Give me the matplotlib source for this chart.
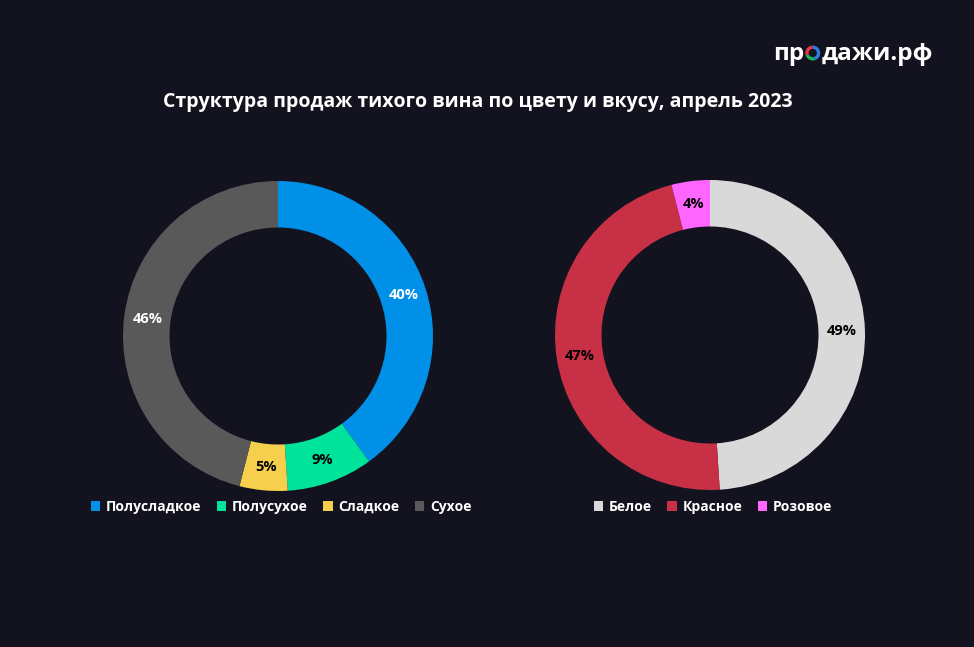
import matplotlib
matplotlib.use("Agg")
import matplotlib.pyplot as plt
from matplotlib.patches import Patch

plt.rcParams['font.family'] = ['Open Sans', 'DejaVu Sans']

bg = '#13131f'

# flavour breakdown
taste_labels = ['Полусладкое', 'Полусухое', 'Сладкое', 'Сухое']
taste_values = [40, 9, 5, 46]
taste_colors = ['#0090e8', '#00e39a', '#f6d04d', '#595959']
taste_text = ['white', 'black', 'black', 'white']

# colour breakdown
color_labels = ['Белое', 'Красное', 'Розовое']
color_values = [49, 47, 4]
color_colors = ['#d9d9d9', '#c83045', '#ff66ff']
color_text = ['black', 'black', 'black']

title = 'Структура продаж тихого вина по цвету и вкусу, апрель 2023'

W, H = 974, 647
fig = plt.figure(figsize=(W / 100, H / 100), dpi=100, facecolor=bg)


def donut(rect, values, colors, txtcolors):
    ax = fig.add_axes(rect)
    ax.set_facecolor(bg)
    wedges, texts, autotexts = ax.pie(
        values, colors=colors, startangle=90, counterclock=False,
        radius=1.0, wedgeprops=dict(width=0.30, linewidth=0),
        autopct='%d%%', pctdistance=0.85,
        textprops=dict(fontsize=10.5, fontweight='bold'))
    for t, c in zip(autotexts, txtcolors):
        t.set_color(c)
    ax.set_xlim(-1, 1)
    ax.set_ylim(-1, 1)
    ax.set_aspect('equal')
    ax.axis('off')
    return ax


donut([123 / W, (H - 491) / H, 310 / W, 310 / H],
      taste_values, taste_colors, taste_text)
donut([555 / W, (H - 490) / H, 310 / W, 310 / H],
      color_values, color_colors, color_text)


def legend(labels, colors, x):
    handles = [Patch(facecolor=c, edgecolor='none') for c in colors]
    leg = fig.legend(handles, labels, loc='center', bbox_to_anchor=(x, 1 - 507 / H),
                     ncol=len(labels), frameon=False, handlelength=0.7, handleheight=0.7,
                     handletextpad=0.4, columnspacing=1.1,
                     prop=dict(size=10, weight='bold'))
    for t in leg.get_texts():
        t.set_color('white')


legend(taste_labels, taste_colors, 281 / W)
legend(color_labels, color_colors, 713 / W)

fig.text(478 / W, 1 - 102 / H, title, ha='center', va='center',
         color='white', fontsize=14, fontweight='bold')

# logo: "пр" + coloured ring for "о" + "дажи.рф"
r = fig.canvas.get_renderer()
logo_y = 1 - 60 / H
t1 = fig.text(773 / W, logo_y, 'пр', ha='left', va='baseline',
              color='white', fontsize=17.5, fontweight='bold')
bb = t1.get_window_extent(r)
o_size = 15
lax = fig.add_axes([(bb.x1 + 1) / W, logo_y - 0.5 / H, o_size / W, o_size / H])
lax.pie([110, 90, 160], colors=['#e8344a', '#19b45a', '#2e7de0'], startangle=90,
        counterclock=True, wedgeprops=dict(width=0.45, linewidth=0))
lax.set_xlim(-1, 1)
lax.set_ylim(-1, 1)
lax.set_aspect('equal')
lax.axis('off')
fig.text((bb.x1 + o_size + 2) / W, logo_y, 'дажи.рф', ha='left', va='baseline',
         color='white', fontsize=17.5, fontweight='bold')

fig.savefig('out.png', dpi=100, facecolor=bg)
